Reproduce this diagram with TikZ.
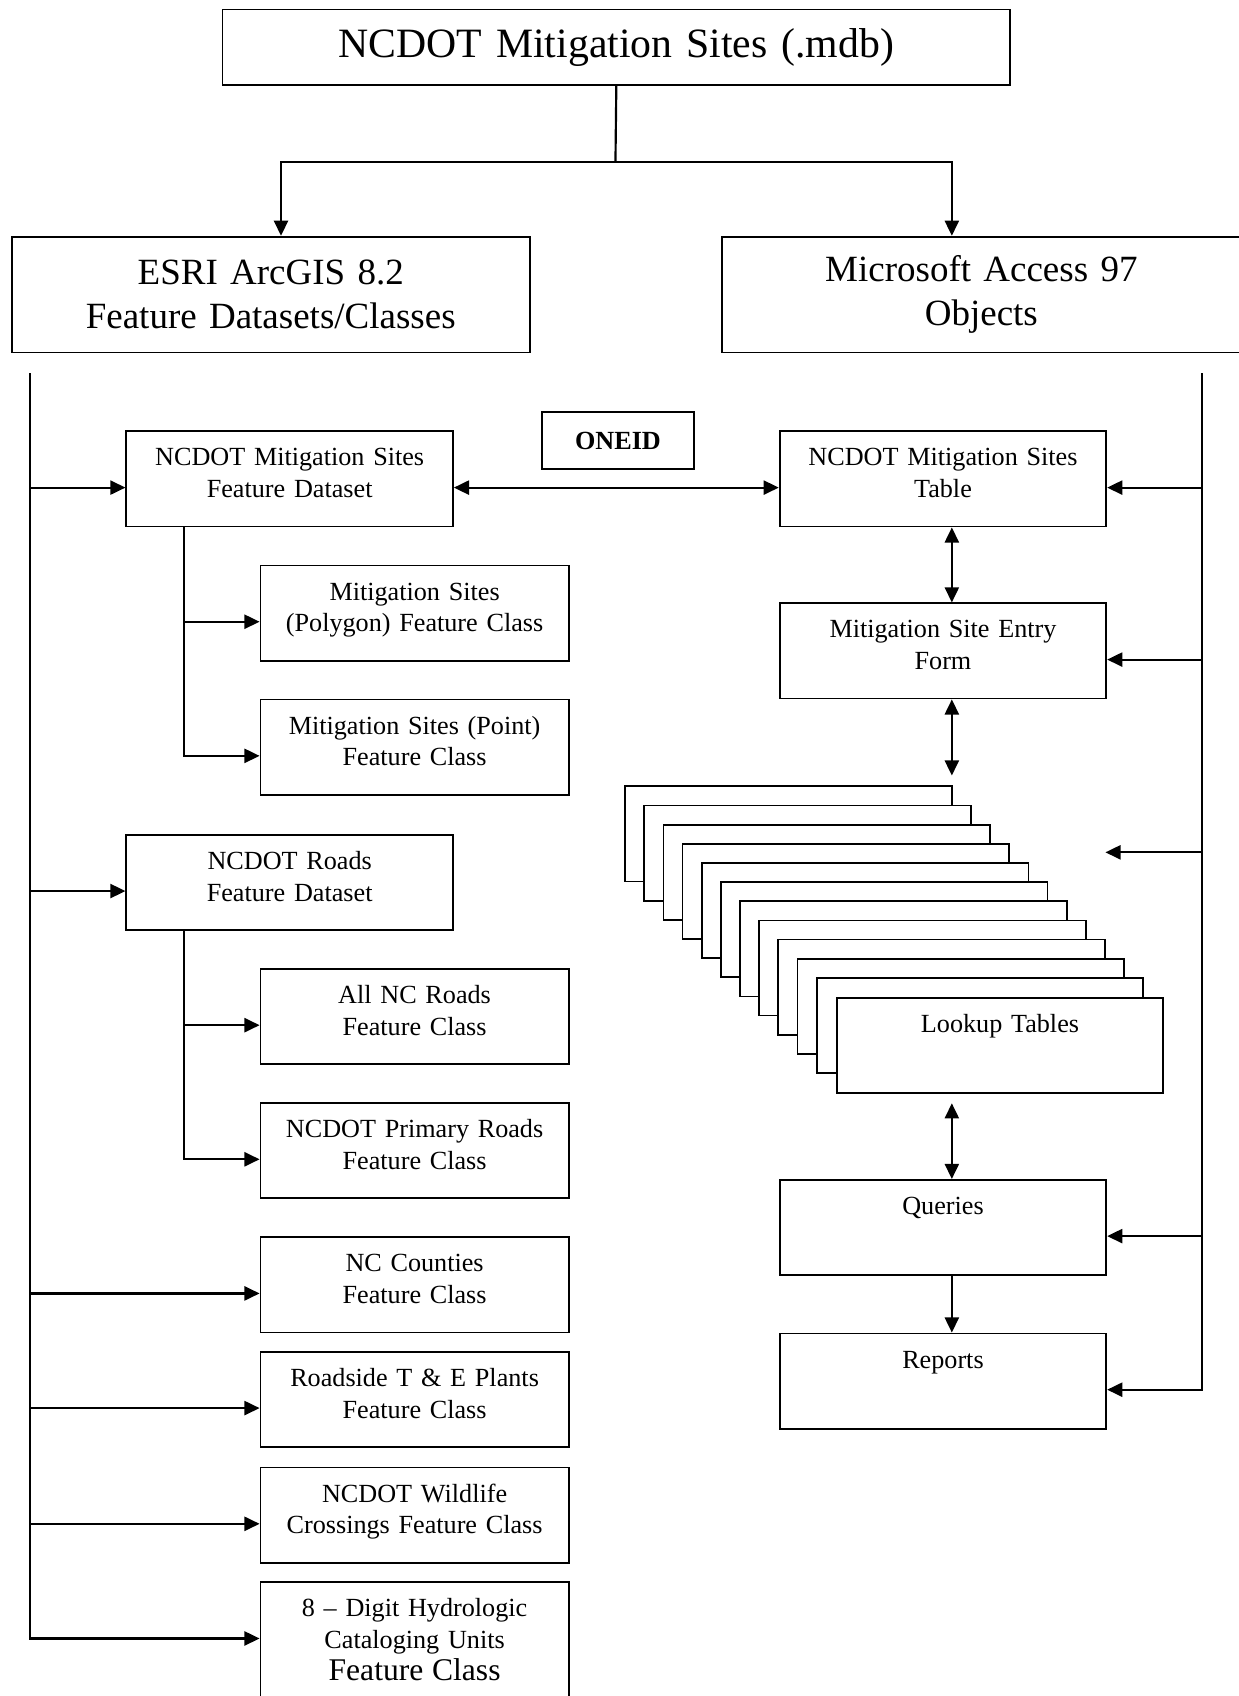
\documentclass[tikz,border=0pt]{standalone}
\usepackage{fontspec}
\setmainfont{Liberation Serif}
\usetikzlibrary{arrows.meta, calc}

\begin{document}
\begin{tikzpicture}[x=0.5pt, y=-0.5pt,
    frame/.style={draw, line width=0.8pt},
    box/.style={frame, anchor=north west, inner sep=0pt, text width=151pt, align=center,
      text height=16pt, text depth=28pt, font=\fontsize{12.1}{14.6}\selectfont},
    cls/.style={box, text width=142.5pt},
    big/.style={frame, anchor=north west, inner sep=0pt, align=center,
      font=\fontsize{17.1}{20.3}\selectfont},
    wire/.style={line width=1pt},
    link/.style={wire, -{Triangle[length=7pt,width=6.5pt]}},
    duplex/.style={wire, {Triangle[length=7pt,width=6.5pt]}-{Triangle[length=7pt,width=6.5pt]}}]
  \useasboundingbox (0,0) rectangle (1145,1568);

  % Define nodes
  \node[big, text width=364pt, minimum height=35pt, font=\fontsize{19.3}{23}\selectfont] (mdb) at (205,8) {NCDOT Mitigation Sites (.mdb)};
  \node[big, text width=239.5pt, minimum height=53.5pt] (esri) at (10,218) {ESRI ArcGIS 8.2\\Feature Datasets/Classes};
  \node[big, text width=239.5pt, minimum height=53.5pt] (access) at (667,218) {Microsoft Access 97\\Objects};
  \node[frame, anchor=north west, inner sep=0pt, minimum width=70.5pt, minimum height=26.5pt,
    font=\fontsize{12.1}{14.6}\selectfont\bfseries] (oneid) at (500,380) {ONEID};

  \node[box] (fds) at (116,398) {NCDOT Mitigation Sites\\Feature Dataset};
  \node[cls] (poly) at (240,522) {Mitigation Sites\\(Polygon) Feature Class};
  \node[cls] (point) at (240,646) {Mitigation Sites (Point)\\Feature Class};
  \node[box] (roads) at (116,771) {NCDOT Roads\\Feature Dataset};
  \node[cls] (allroads) at (240,895) {All NC Roads\\Feature Class};
  \node[cls] (primary) at (240,1019) {NCDOT Primary Roads\\Feature Class};
  \node[cls] (counties) at (240,1143) {NC Counties\\Feature Class};
  \node[cls] (plants) at (240,1249) {Roadside T \& E Plants\\Feature Class};
  \node[cls] (wildlife) at (240,1356) {NCDOT Wildlife\\Crossings Feature Class};
  \node[cls, text depth=52pt] (huc) at (240,1462) {8 -- Digit Hydrologic\\Cataloging Units\\{\fontsize{14.6}{17}\selectfont Feature Class}};

  \node[box] (sitetable) at (720,398) {NCDOT Mitigation Sites\\Table};
  \node[box] (entryform) at (720,557) {Mitigation Site Entry\\Form};
  \foreach \i in {0,...,10}
    \draw[frame, fill=white] ({578+17.7*\i},{727+17.7*\i}) rectangle +(302,88);
  \node[box, fill=white] (lookup) at (772.7,921.7) {Lookup Tables};
  \node[box] (queries) at (720,1090) {Queries};
  \node[box] (reports) at (720,1232) {Reports};

  % Draw connectors
  \coordinate (split) at (569,150);
  \draw[wire] (mdb.south) -- (split);
  \draw[link] (split) -| ([xshift=4.75pt]esri.north);
  \draw[link] (split) -| ([xshift=106.5pt]access.north west);

  \coordinate (ltrunk) at (28,345);
  \draw[link] (ltrunk) |- ([yshift=-26.4pt]huc.north west);
  \foreach \n in {fds,roads,counties,plants,wildlife}
    \draw[link] ([yshift=-26.4pt]\n.north west -| ltrunk) -- ([yshift=-26.4pt]\n.north west);

  \coordinate (fdsdrop) at ([xshift=27pt]fds.south west);
  \draw[link] (fdsdrop) |- ([yshift=-26.4pt]poly.north west);
  \draw[link] (fdsdrop) |- ([yshift=-26.4pt]point.north west);
  \coordinate (roadsdrop) at ([xshift=27pt]roads.south west);
  \draw[link] (roadsdrop) |- ([yshift=-26.4pt]allroads.north west);
  \draw[link] (roadsdrop) |- ([yshift=-26.4pt]primary.north west);

  \draw[duplex] ([yshift=-26.4pt]fds.north east) -- ([yshift=-26.4pt]sitetable.north west);

  \coordinate (rtrunk) at (1111,345);
  \draw[link] (rtrunk) |- ([yshift=-26.4pt]reports.north east);
  \foreach \n in {sitetable,entryform,queries}
    \draw[link] ([yshift=-26.4pt]\n.north east -| rtrunk) -- ([yshift=-26.4pt]\n.north east);
  \coordinate (lookupin) at (1022,788);
  \draw[link] (lookupin -| rtrunk) -- (lookupin);

  \draw[duplex] ([xshift=80pt]sitetable.south west) -- ([xshift=80pt]entryform.north west);
  \coordinate (stacktop) at (880,717);
  \draw[duplex] ([xshift=80pt]entryform.south west) -- (stacktop);
  \coordinate (stackbot) at (880,1020);
  \draw[duplex] (stackbot) -- ([xshift=80pt]queries.north west);
  \draw[link] ([xshift=80pt]queries.south west) -- ([xshift=80pt]reports.north west);
\end{tikzpicture}
\end{document}
